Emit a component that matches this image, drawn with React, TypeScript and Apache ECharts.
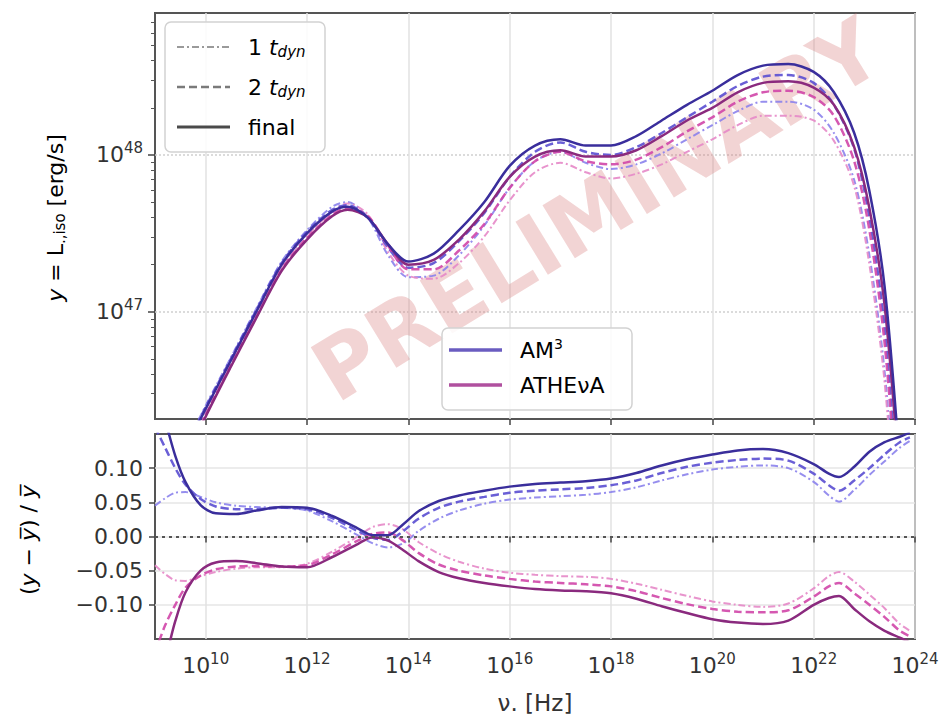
import React, { useEffect, useRef } from "react";
import * as echarts from "echarts";

// ---------- data (log10 of frequency / luminance) ----------
const X_SED = [9.6, 10, 10.5, 11, 11.5, 12, 12.5, 12.8, 13.2, 13.6, 14, 14.5, 15, 15.5, 16, 16.5, 17, 17.5, 18, 18.5, 19, 19.5, 20, 20.5, 21, 21.5, 22, 22.4, 22.8, 23.1, 23.4, 23.7];

const AM3_FINAL = [46.12, 46.38, 46.69, 47.0, 47.3, 47.5, 47.64, 47.67, 47.6, 47.43, 47.32, 47.37, 47.52, 47.7, 47.93, 48.06, 48.1, 48.06, 48.06, 48.12, 48.22, 48.32, 48.41, 48.51, 48.57, 48.58, 48.53, 48.4, 48.14, 47.77, 47.16, 46.02];
const ATH_FINAL = [46.05, 46.33, 46.65, 46.96, 47.26, 47.46, 47.61, 47.65, 47.6, 47.43, 47.3, 47.33, 47.46, 47.64, 47.86, 47.99, 48.03, 47.99, 47.99, 48.03, 48.12, 48.22, 48.3, 48.4, 48.46, 48.47, 48.43, 48.32, 48.05, 47.66, 47.04, 45.9];
const AM3_2T = [46.14, 46.39, 46.7, 47.01, 47.31, 47.51, 47.65, 47.68, 47.6, 47.41, 47.28, 47.31, 47.45, 47.63, 47.86, 48.02, 48.08, 48.02, 48.0, 48.05, 48.14, 48.24, 48.34, 48.44, 48.5, 48.51, 48.46, 48.32, 48.04, 47.6, 46.9, 45.7];
const ATH_2T = [46.07, 46.34, 46.66, 46.97, 47.27, 47.47, 47.62, 47.66, 47.61, 47.42, 47.27, 47.27, 47.39, 47.56, 47.79, 47.96, 48.02, 47.96, 47.94, 47.97, 48.05, 48.15, 48.24, 48.34, 48.4, 48.41, 48.37, 48.25, 47.96, 47.52, 46.8, 45.6];
const AM3_1T = [46.14, 46.4, 46.71, 47.02, 47.32, 47.52, 47.67, 47.7, 47.6, 47.36, 47.22, 47.23, 47.36, 47.55, 47.79, 47.96, 48.02, 47.95, 47.91, 47.94, 48.01, 48.1, 48.19, 48.28, 48.34, 48.34, 48.29, 48.14, 47.84, 47.36, 46.62, 45.4];
const ATH_1T = [46.08, 46.35, 46.67, 46.98, 47.28, 47.48, 47.64, 47.69, 47.62, 47.38, 47.23, 47.21, 47.31, 47.48, 47.71, 47.89, 47.95, 47.89, 47.85, 47.88, 47.94, 48.02, 48.1, 48.19, 48.25, 48.25, 48.22, 48.09, 47.8, 47.3, 46.55, 45.3];

const X_RES = [9.0, 9.2, 9.4, 9.6, 9.9, 10.2, 10.6, 11.0, 11.5, 12.0, 12.5, 13.0, 13.3, 13.6, 13.9, 14.2, 14.6, 15.0, 15.5, 16.0, 16.5, 17.0, 17.5, 18.0, 18.5, 19.0, 19.5, 20.0, 20.5, 21.0, 21.5, 22.0, 22.3, 22.5, 22.8, 23.1, 23.4, 23.7, 23.9];

const RES_AM3_FINAL = [0.22, 0.17, 0.118, 0.08, 0.046, 0.034, 0.033, 0.038, 0.043, 0.042, 0.03, 0.012, 0.002, 0.002, 0.018, 0.037, 0.052, 0.06, 0.067, 0.073, 0.077, 0.079, 0.081, 0.085, 0.093, 0.104, 0.113, 0.12, 0.126, 0.128, 0.122, 0.106, 0.092, 0.087, 0.102, 0.124, 0.138, 0.146, 0.152];
const RES_AM3_2T = [0.16, 0.13, 0.1, 0.076, 0.055, 0.044, 0.04, 0.04, 0.042, 0.04, 0.027, 0.008, -0.002, -0.005, 0.008, 0.026, 0.042, 0.051, 0.058, 0.064, 0.067, 0.069, 0.071, 0.075, 0.082, 0.093, 0.102, 0.108, 0.112, 0.114, 0.111, 0.092, 0.075, 0.067, 0.082, 0.1, 0.12, 0.138, 0.145];
const RES_AM3_1T = [0.045, 0.056, 0.064, 0.065, 0.058, 0.05, 0.045, 0.043, 0.042, 0.038, 0.022, 0.002, -0.01, -0.016, -0.01, 0.008, 0.026, 0.038, 0.048, 0.054, 0.057, 0.059, 0.061, 0.065, 0.072, 0.082, 0.091, 0.098, 0.102, 0.104, 0.1, 0.08, 0.06, 0.051, 0.068, 0.09, 0.11, 0.13, 0.14];
const RES_ATH_FINAL = [-0.22, -0.18, -0.124, -0.082, -0.05, -0.038, -0.036, -0.039, -0.044, -0.045, -0.03, -0.011, -0.001, -0.006, -0.02, -0.036, -0.052, -0.061, -0.068, -0.073, -0.077, -0.079, -0.08, -0.083, -0.091, -0.102, -0.112, -0.121, -0.126, -0.128, -0.123, -0.1, -0.09, -0.087, -0.106, -0.124, -0.138, -0.148, -0.155];
const RES_ATH_2T = [-0.17, -0.13, -0.1, -0.075, -0.057, -0.048, -0.044, -0.043, -0.044, -0.042, -0.026, -0.006, 0.004, 0.006, -0.006, -0.024, -0.041, -0.05, -0.057, -0.062, -0.066, -0.068, -0.07, -0.073, -0.08, -0.09, -0.099, -0.106, -0.11, -0.111, -0.108, -0.088, -0.073, -0.068, -0.083, -0.1, -0.118, -0.138, -0.146];
const RES_ATH_1T = [-0.042, -0.055, -0.064, -0.065, -0.058, -0.052, -0.047, -0.045, -0.045, -0.04, -0.022, 0.0, 0.014, 0.018, 0.01, -0.008, -0.025, -0.037, -0.047, -0.053, -0.056, -0.058, -0.059, -0.062, -0.069, -0.078, -0.087, -0.095, -0.1, -0.103, -0.098, -0.076, -0.058, -0.052, -0.066, -0.085, -0.105, -0.128, -0.138];

// tick positions
const X_TICKS = [10, 12, 14, 16, 18, 20, 22, 24];
const Y_TOP_TICKS = [47, 48];
const Y_TOP_MINOR = [46.301, 46.477, 46.602, 46.699, 46.778, 46.845, 46.903, 46.954, 47.301, 47.477, 47.602, 47.699, 47.778, 47.845, 47.903, 47.954, 48.301, 48.477, 48.602, 48.699, 48.778, 48.845];
const Y_BOT_TICKS = [-0.1, -0.05, 0, 0.05, 0.1];
const Y_BOT_LABELS = ["\u22120.10", "\u22120.05", "0.00", "0.05", "0.10"];

const FONT = "DejaVu Sans";
const C_AM3 = ["#3a2e9c", "#5a4ed2", "#8b82ec"];
const C_ATH = ["#8a2a7e", "#d046a8", "#e688c8"];
const DASH_DOT = [7, 3, 2, 3];
const DASH = [8, 4];

const zip = (xs: number[], ys: number[]) => xs.map((x, i) => [x, ys[i]]);

const powRich = {
  b: { fontSize: 22, fontFamily: FONT, color: "#333" },
  s: { fontSize: 15, fontFamily: FONT, color: "#333", padding: [0, 0, 14, 0] },
};

export default function App() {
  const ref = useRef<HTMLDivElement>(null);
  useEffect(() => {
    if (!ref.current) return;
    const chart = echarts.init(ref.current, undefined, { renderer: "svg" });

    const line = (
      name: string,
      xs: number[],
      ys: number[],
      color: string,
      type: any,
      width: number,
      gi: number,
      z: number,
      opacity = 1
    ) => ({
      name,
      type: "line",
      xAxisIndex: gi,
      yAxisIndex: gi === 0 ? 0 : 2,
      data: zip(xs, ys),
      showSymbol: false,
      smooth: 0.3,
      z,
      lineStyle: { color, type, width, opacity },
    });

    const series: any[] = [
      line("AM3 1 tdyn", X_SED, AM3_1T, C_AM3[2], DASH_DOT, 2, 0, 2, 0.9),
      line("ATHEvA 1 tdyn", X_SED, ATH_1T, C_ATH[2], DASH_DOT, 2, 0, 2, 0.9),
      line("AM3 2 tdyn", X_SED, AM3_2T, C_AM3[1], DASH, 2.5, 0, 3, 0.9),
      line("ATHEvA 2 tdyn", X_SED, ATH_2T, C_ATH[1], DASH, 2.5, 0, 3, 0.9),
      line("ATHEvA final", X_SED, ATH_FINAL, C_ATH[0], "solid", 2.5, 0, 4),
      line("AM3 final", X_SED, AM3_FINAL, C_AM3[0], "solid", 2.5, 0, 4),
      line("AM3 1 tdyn res", X_RES, RES_AM3_1T, C_AM3[2], DASH_DOT, 2, 1, 2, 0.9),
      line("ATHEvA 1 tdyn res", X_RES, RES_ATH_1T, C_ATH[2], DASH_DOT, 2, 1, 2, 0.9),
      line("AM3 2 tdyn res", X_RES, RES_AM3_2T, C_AM3[1], DASH, 2.5, 1, 3, 0.9),
      line("ATHEvA 2 tdyn res", X_RES, RES_ATH_2T, C_ATH[1], DASH, 2.5, 1, 3, 0.9),
      line("ATHEvA final res", X_RES, RES_ATH_FINAL, C_ATH[0], "solid", 2.5, 1, 4),
      line("AM3 final res", X_RES, RES_AM3_FINAL, C_AM3[0], "solid", 2.5, 1, 4),
    ];
    series[series.length - 1].markLine = {
      silent: true,
      symbol: "none",
      label: { show: false },
      lineStyle: { color: "#555", type: [3, 4], width: 2 },
      data: [{ yAxis: 0 }],
    };

    const xAxisBase = (gi: number, labels: boolean) => ({
      type: "value",
      gridIndex: gi,
      min: 9,
      max: 24,
      axisLine: { show: false },
      axisTick: {
        show: true,
        customValues: X_TICKS,
        length: 6,
        lineStyle: { color: "#444", width: 1.5 },
      },
      axisLabel: labels
        ? {
            show: true,
            customValues: X_TICKS,
            margin: 12,
            formatter: (v: number) => `{b|10}{s|${Math.round(v)}}`,
            rich: powRich,
          }
        : { show: false },
      splitLine: { show: true, lineStyle: { color: "#e2e2e2", width: 1.5 } },
    });

    const legendText = (x: number, y: number, text: string, rich: any) => ({
      type: "text",
      x,
      y,
      z: 21,
      style: { text, rich, verticalAlign: "middle", align: "left" },
    });

    const tRich = {
      n: { fontSize: 22, fontFamily: FONT, color: "#333" },
      t: { fontSize: 22, fontFamily: FONT, color: "#333", fontStyle: "italic" },
      s: { fontSize: 15, fontFamily: FONT, color: "#333", fontStyle: "italic", padding: [10, 0, 0, 0] },
      p: { fontSize: 14, fontFamily: FONT, color: "#333", padding: [0, 0, 12, 0] },
    };

    const labRich = {
      n: { fontSize: 22, fontFamily: FONT, color: "#333" },
      i: { fontSize: 22, fontFamily: FONT, color: "#333", fontStyle: "italic" },
      s: { fontSize: 15, fontFamily: FONT, color: "#333", padding: [10, 0, 0, 0] },
    };

    chart.setOption({
      animation: false,
      backgroundColor: "#ffffff",
      textStyle: { fontFamily: FONT },
      grid: [
        { left: 155, right: 32, top: 13, height: 406, show: true, borderColor: "#555", borderWidth: 2, backgroundColor: "transparent" },
        { left: 155, right: 32, top: 434, height: 205, show: true, borderColor: "#555", borderWidth: 2, backgroundColor: "transparent" },
      ],
      xAxis: [xAxisBase(0, false), xAxisBase(1, true)],
      yAxis: [
        {
          type: "value",
          gridIndex: 0,
          min: 46.315,
          max: 48.906,
          axisLine: { show: false },
          axisTick: { show: true, customValues: Y_TOP_TICKS, length: 7, lineStyle: { color: "#444", width: 1.5 } },
          axisLabel: {
            customValues: Y_TOP_TICKS,
            margin: 12,
            formatter: (v: number) => `{b|10}{s|${Math.round(v)}}`,
            rich: powRich,
          },
          splitLine: { show: true, lineStyle: { color: "#cfcfcf", width: 1.5, type: [2, 2] } },
        },
        {
          type: "value",
          gridIndex: 0,
          min: 46.315,
          max: 48.906,
          position: "left",
          axisLine: { show: false },
          axisTick: { show: true, customValues: Y_TOP_MINOR, length: 4, lineStyle: { color: "#555", width: 1 } },
          axisLabel: { show: false },
          splitLine: { show: false },
        },
        {
          type: "value",
          gridIndex: 1,
          min: -0.15,
          max: 0.15,
          axisLine: { show: false },
          axisTick: { show: true, customValues: Y_BOT_TICKS, length: 6, lineStyle: { color: "#444", width: 1.5 } },
          axisLabel: {
            customValues: Y_BOT_TICKS,
            margin: 12,
            fontSize: 22,
            fontFamily: FONT,
            color: "#333",
            formatter: (v: number) => Y_BOT_LABELS[Y_BOT_TICKS.findIndex((t) => Math.abs(t - v) < 1e-6)] ?? "",
          },
          splitLine: { show: true, lineStyle: { color: "#e6e6e6", width: 1.5 } },
        },
      ],
      series,
      graphic: [
        // watermark
        {
          type: "text",
          x: 597,
          y: 210,
          rotation: 0.55,
          z: 1,
          silent: true,
          style: {
            text: "PRELIMINARY",
            align: "center",
            verticalAlign: "middle",
            fill: "rgba(214, 120, 120, 0.32)",
            font: `bold 85px "${FONT}"`,
            lineHeight: 64,
          },
        },
        // axis titles
        {
          type: "text",
          x: 55,
          y: 218,
          rotation: Math.PI / 2,
          z: 20,
          style: {
            text: "{i|y}{n| = L}{s|.,iso}{n| [erg/s]}",
            align: "center",
            verticalAlign: "middle",
            rich: labRich,
          },
        },
        {
          type: "text",
          x: 28,
          y: 540,
          rotation: Math.PI / 2,
          z: 20,
          style: {
            text: "{n|(}{i|y}{n| \u2212 }{i|y\u0305}{n|) / }{i|y\u0305}",
            align: "center",
            verticalAlign: "middle",
            rich: labRich,
          },
        },
        {
          type: "text",
          x: 535,
          y: 703,
          z: 20,
          style: {
            text: "\u03bd. [Hz]",
            align: "center",
            verticalAlign: "middle",
            fontSize: 23,
            fontFamily: FONT,
            fill: "#333",
          },
        },
        // legend 1 (time)
        {
          type: "rect",
          z: 20,
          shape: { x: 165, y: 22, width: 160, height: 130, r: 6 },
          style: { fill: "rgba(255,255,255,0.85)", stroke: "#d2d2d2", lineWidth: 1.5 },
        },
        { type: "line", z: 21, shape: { x1: 177, y1: 47, x2: 230, y2: 47 }, style: { stroke: "#9a9a9a", lineWidth: 2.2, lineDash: DASH_DOT } },
        { type: "line", z: 21, shape: { x1: 177, y1: 87, x2: 230, y2: 87 }, style: { stroke: "#7a7a7a", lineWidth: 2.5, lineDash: DASH } },
        { type: "line", z: 21, shape: { x1: 177, y1: 127, x2: 230, y2: 127 }, style: { stroke: "#4a4a4a", lineWidth: 3 } },
        legendText(248, 47, "{n|1 }{t|t}{s|dyn}", tRich),
        legendText(248, 87, "{n|2 }{t|t}{s|dyn}", tRich),
        legendText(248, 127, "{n|final}", tRich),
        // legend 2 (codes)
        {
          type: "rect",
          z: 20,
          shape: { x: 442, y: 328, width: 190, height: 82, r: 6 },
          style: { fill: "rgba(255,255,255,0.85)", stroke: "#d2d2d2", lineWidth: 1.5 },
        },
        { type: "line", z: 21, shape: { x1: 449, y1: 350, x2: 502, y2: 350 }, style: { stroke: "#6a5cc0", lineWidth: 3.5 } },
        { type: "line", z: 21, shape: { x1: 449, y1: 385, x2: 502, y2: 385 }, style: { stroke: "#b0509f", lineWidth: 3.5 } },
        legendText(520, 350, "{n|AM}{p|3}", tRich),
        legendText(520, 385, "{n|ATHE\u03bdA}", tRich),
      ],
    });

    return () => chart.dispose();
  }, []);

  return (
    <div
      ref={ref}
      style={{ position: "fixed", left: 0, top: 0, width: 947, height: 720, background: "#fff" }}
    />
  );
}
